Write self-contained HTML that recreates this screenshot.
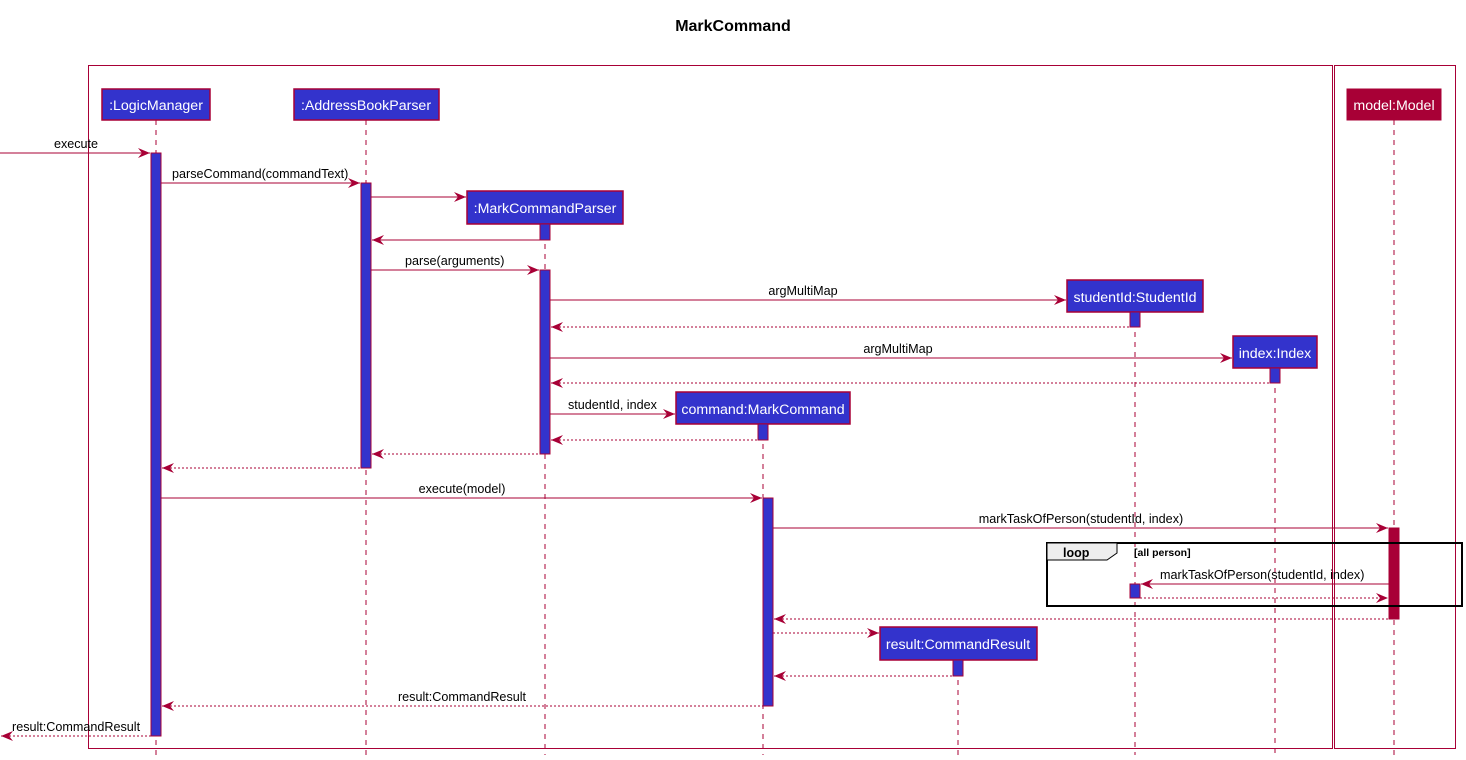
<!DOCTYPE html>
<html><head><meta charset="utf-8"><style>
html,body{margin:0;padding:0;background:#fff}
svg{display:block}
text{font-family:"Liberation Sans",sans-serif;font-size:12.6px;fill:#000}
.p{fill:#fff;font-size:14.2px}
.l{stroke:#A80036;stroke-width:1}
.d{stroke:#A80036;stroke-width:1;stroke-dasharray:2,2}
.ll{stroke:#A80036;stroke-width:1;stroke-dasharray:5,5}
.a{fill:#A80036}
.box{fill:#3333CC;stroke:#A80036;stroke-width:1.5}
.act{fill:#3333CC;stroke:#A80036;stroke-width:1}
</style></head><body>
<svg width="1466" height="760" xmlns="http://www.w3.org/2000/svg">
<text x="733" y="31" text-anchor="middle" style="font-size:16px;font-weight:bold">MarkCommand</text>
<rect x="88.5" y="65.5" width="1244" height="683" fill="none" stroke="#A80036"/>
<rect x="1334.5" y="65.5" width="121" height="683" fill="none" stroke="#A80036"/>

<line class="ll" x1="156" y1="120" x2="156" y2="755"/>
<line class="ll" x1="366" y1="120" x2="366" y2="755"/>
<line class="ll" x1="545" y1="224" x2="545" y2="755"/>
<line class="ll" x1="763" y1="424" x2="763" y2="755"/>
<line class="ll" x1="958" y1="660" x2="958" y2="755"/>
<line class="ll" x1="1135" y1="312" x2="1135" y2="755"/>
<line class="ll" x1="1275" y1="368" x2="1275" y2="755"/>
<line class="ll" x1="1394" y1="120" x2="1394" y2="755"/>

<rect class="box" x="102" y="89" width="108" height="31"/><text class="p" x="156" y="110" text-anchor="middle">:LogicManager</text>
<rect class="box" x="294" y="89" width="145" height="31"/><text class="p" x="366" y="110" text-anchor="middle">:AddressBookParser</text>
<rect class="box" x="467" y="191" width="156" height="33"/><text class="p" x="545" y="213" text-anchor="middle">:MarkCommandParser</text>
<rect class="box" x="1067" y="280" width="136" height="32"/><text class="p" x="1135" y="302" text-anchor="middle">studentId:StudentId</text>
<rect class="box" x="1233" y="336" width="84" height="32"/><text class="p" x="1275" y="358" text-anchor="middle">index:Index</text>
<rect class="box" x="676" y="392" width="174" height="32"/><text class="p" x="763" y="414" text-anchor="middle">command:MarkCommand</text>
<rect class="box" x="880" y="627" width="157" height="33"/><text class="p" x="958" y="649" text-anchor="middle">result:CommandResult</text>
<rect x="1347" y="89" width="94" height="31" fill="#A80036" stroke="#A80036"/><text class="p" x="1394" y="110" text-anchor="middle">model:Model</text>

<rect class="act" x="151" y="153" width="10" height="583"/>
<rect class="act" x="361" y="183" width="10" height="285"/>
<rect class="act" x="540" y="224" width="10" height="16"/>
<rect class="act" x="540" y="270" width="10" height="184"/>
<rect class="act" x="1130" y="312" width="10" height="15"/>
<rect class="act" x="1270" y="368" width="10" height="15"/>
<rect class="act" x="758" y="424" width="10" height="16"/>
<rect class="act" x="763" y="498" width="10" height="208"/>
<rect class="act" x="953" y="660" width="10" height="16"/>
<rect x="1389" y="528" width="10" height="91" fill="#A80036" stroke="#A80036"/>

<rect x="1047" y="543" width="415" height="63" fill="none" stroke="#000" stroke-width="2"/>
<polygon points="1047,543 1117,543 1117,553 1107,560 1047,560" fill="#EEEEEE" stroke="#000" stroke-width="1"/>
<text x="1063" y="557" style="font-weight:bold;font-size:12.5px">loop</text>
<text x="1134" y="556" style="font-weight:bold;font-size:10.5px">[all person]</text>
<rect class="act" x="1130" y="584" width="10" height="14"/>

<line class="l" x1="0" y1="153" x2="150" y2="153"/><polygon class="a" points="138,148 150,153 138,158 142,153"/>
<text x="76" y="148" text-anchor="middle">execute</text>

<line class="l" x1="161" y1="183" x2="360" y2="183"/><polygon class="a" points="348,178 360,183 348,188 352,183"/>
<text x="172" y="178">parseCommand(commandText)</text>

<line class="l" x1="371" y1="197" x2="466" y2="197"/><polygon class="a" points="454,192 466,197 454,202 458,197"/>

<line class="l" x1="372" y1="240" x2="540" y2="240"/><polygon class="a" points="384,235 372,240 384,245 380,240"/>

<line class="l" x1="371" y1="270" x2="539" y2="270"/><polygon class="a" points="527,265 539,270 527,275 531,270"/>
<text x="405" y="265">parse(arguments)</text>

<line class="l" x1="550" y1="300" x2="1066" y2="300"/><polygon class="a" points="1054,295 1066,300 1054,305 1058,300"/>
<text x="803" y="295" text-anchor="middle">argMultiMap</text>

<line class="d" x1="551" y1="327" x2="1130" y2="327"/><polygon class="a" points="563,322 551,327 563,332 559,327"/>

<line class="l" x1="550" y1="358" x2="1232" y2="358"/><polygon class="a" points="1220,353 1232,358 1220,363 1224,358"/>
<text x="898" y="353" text-anchor="middle">argMultiMap</text>

<line class="d" x1="551" y1="383" x2="1270" y2="383"/><polygon class="a" points="563,378 551,383 563,388 559,383"/>

<line class="l" x1="550" y1="414" x2="675" y2="414"/><polygon class="a" points="663,409 675,414 663,419 667,414"/>
<text x="568" y="409">studentId, index</text>

<line class="d" x1="551" y1="440" x2="758" y2="440"/><polygon class="a" points="563,435 551,440 563,445 559,440"/>
<line class="d" x1="372" y1="454" x2="540" y2="454"/><polygon class="a" points="384,449 372,454 384,459 380,454"/>
<line class="d" x1="162" y1="468" x2="361" y2="468"/><polygon class="a" points="174,463 162,468 174,473 170,468"/>

<line class="l" x1="161" y1="498" x2="762" y2="498"/><polygon class="a" points="750,493 762,498 750,503 754,498"/>
<text x="462" y="493" text-anchor="middle">execute(model)</text>

<line class="l" x1="773" y1="528" x2="1388" y2="528"/><polygon class="a" points="1376,523 1388,528 1376,533 1380,528"/>
<text x="1081" y="523" text-anchor="middle">markTaskOfPerson(studentId, index)</text>

<line class="l" x1="1141" y1="584" x2="1389" y2="584"/><polygon class="a" points="1153,579 1141,584 1153,589 1149,584"/>
<text x="1160" y="579">markTaskOfPerson(studentId, index)</text>

<line class="d" x1="1140" y1="598" x2="1388" y2="598"/><polygon class="a" points="1376,593 1388,598 1376,603 1380,598"/>

<line class="d" x1="774" y1="619" x2="1389" y2="619"/><polygon class="a" points="786,614 774,619 786,624 782,619"/>
<line class="d" x1="773" y1="633" x2="879" y2="633"/><polygon class="a" points="867,628 879,633 867,638 871,633"/>
<line class="d" x1="774" y1="676" x2="953" y2="676"/><polygon class="a" points="786,671 774,676 786,681 782,676"/>

<line class="d" x1="162" y1="706" x2="763" y2="706"/><polygon class="a" points="174,701 162,706 174,711 170,706"/>
<text x="462" y="701" text-anchor="middle">result:CommandResult</text>

<line class="d" x1="1" y1="736" x2="151" y2="736"/><polygon class="a" points="13,731 1,736 13,741 9,736"/>
<text x="12" y="731">result:CommandResult</text>
</svg>
</body></html>
